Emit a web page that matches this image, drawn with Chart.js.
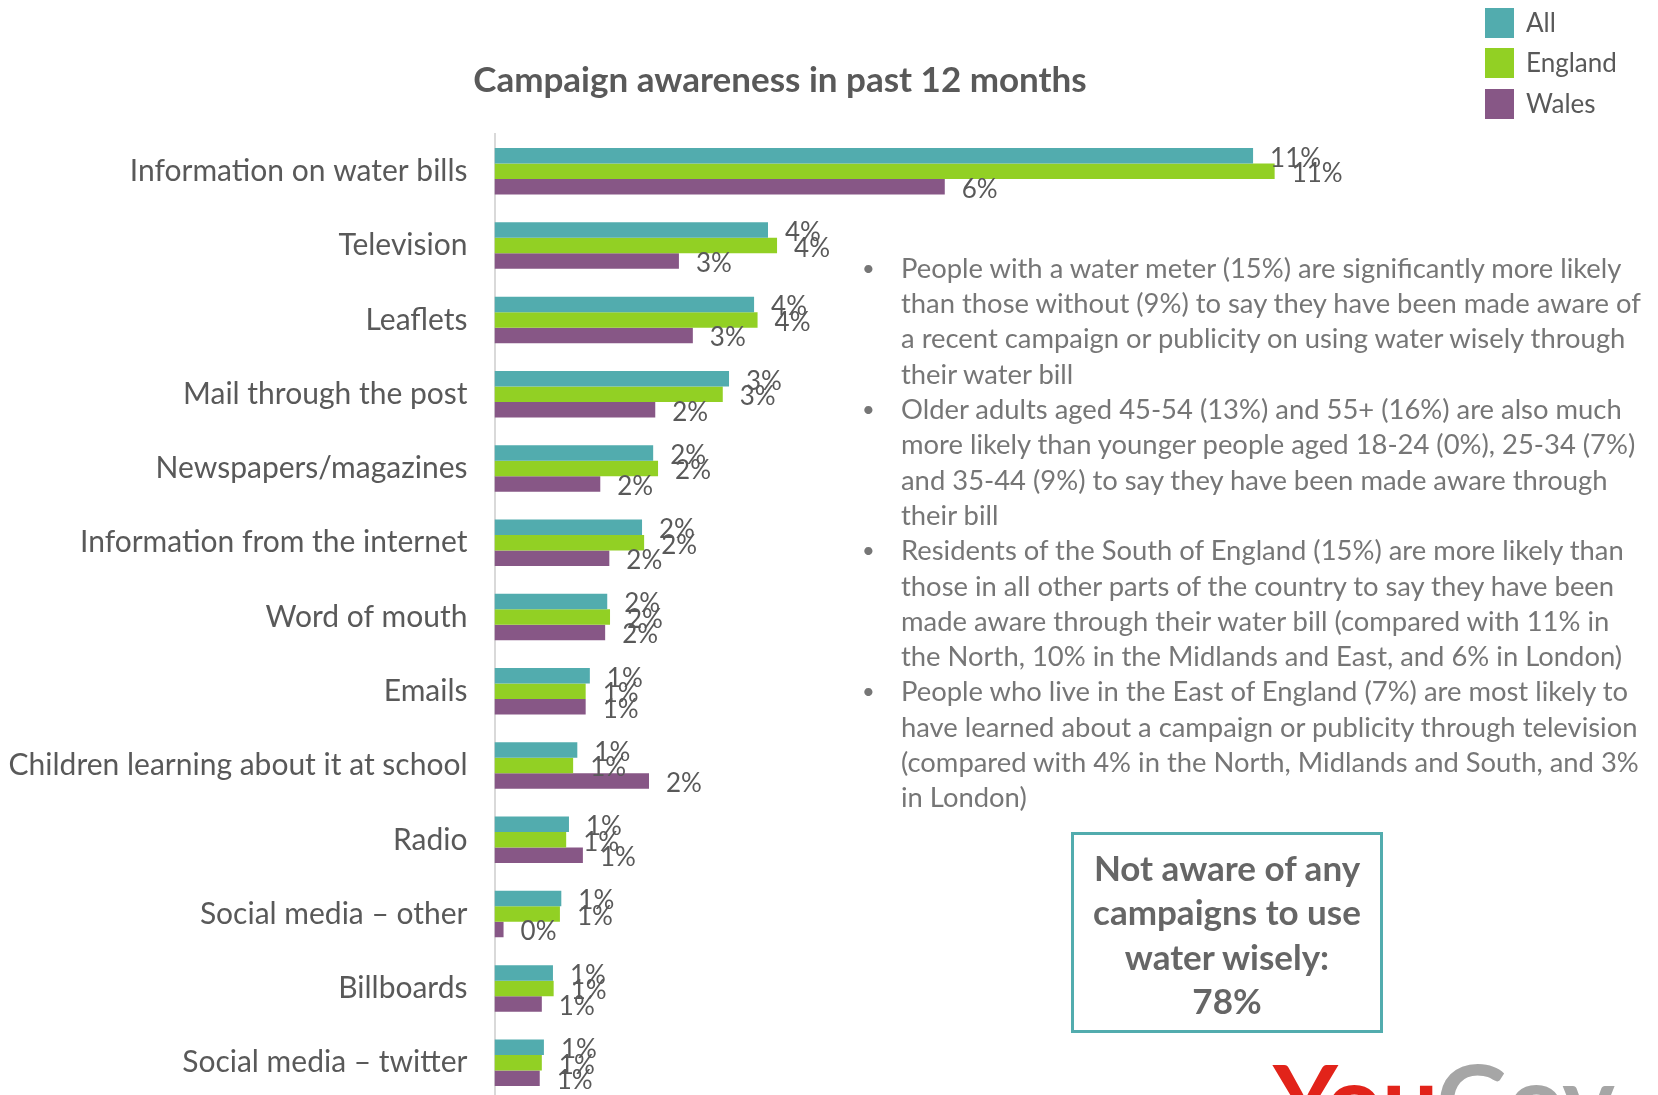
<!DOCTYPE html>
<html>
<head>
<meta charset="utf-8">
<script src="https://cdn.jsdelivr.net/npm/chart.js@4/dist/chart.umd.min.js"></script>
<style>
  html, body { margin: 0; padding: 0; background: #ffffff; width: 1658px; height: 1095px; overflow: hidden; }
  body { position: relative; font-family: Lato, "Open Sans", sans-serif; }
  #chartWrap { position: absolute; left: 0; top: 0; width: 1658px; height: 1120px; }
  #chart { display: block; width: 1658px; height: 1120px; }
  #title { position: absolute; left: 380px; width: 800px; top: 57px; text-align: center; font-weight: 700; font-size: 35px; color: #595959; white-space: nowrap; line-height: 42px; }
  #legend { position: absolute; left: 1485px; top: 0; }
  .lg { position: absolute; left: 0; white-space: nowrap; height: 30px; }
  .lg .sw { position: absolute; left: 0; top: 0; width: 29px; height: 30px; }
  .lg .tx { position: absolute; left: 41px; top: -3px; font-size: 26px; line-height: 34px; color: #595959; }
  #notes { position: absolute; left: 0; top: 0; color: #767676; font-size: 27.4px; }
  .ln { position: absolute; left: 901px; white-space: nowrap; line-height: 30px; }
  .dot { position: absolute; left: 862px; white-space: nowrap; line-height: 30px; font-size: 22px; }
  #box { position: absolute; left: 1071px; top: 832px; width: 306px; height: 195px; border: 3px solid #52acae; text-align: center; color: #666666; font-weight: 700; font-size: 35px; }
  #box div { position: absolute; left: 0; width: 306px; line-height: 40px; white-space: nowrap; }
  #logo { position: absolute; left: 1273px; top: 1048px; font-size: 100px; line-height: 100px; font-weight: 700; white-space: nowrap; letter-spacing: -1px; }
</style>
</head>
<body>
<div id="chartWrap"><canvas id="chart" width="1658" height="1120"></canvas></div>
<div id="title">Campaign awareness in past 12 months</div>
<div id="legend"></div>
<div id="notes"></div>
<div id="box"></div>
<div id="logo"><span style="color:#e2231a">You</span><span style="color:#a6a6a6">Gov</span></div>

<script>
// Sources of campaign awareness, one row per source
const categories = [
  'Information on water bills',
  'Television',
  'Leaflets',
  'Mail through the post',
  'Newspapers/magazines',
  'Information from the internet',
  'Word of mouth',
  'Emails',
  'Children learning about it at school',
  'Radio',
  'Social media \u2013 other',
  'Billboards',
  'Social media \u2013 twitter'
];

// Share of respondents aware (%), per group
const allValues     = [10.9, 3.93, 3.73, 3.37, 2.28, 2.12, 1.62, 1.37, 1.19, 1.07, 0.96, 0.84, 0.71];
const englandValues = [11.21, 4.06, 3.78, 3.28, 2.35, 2.15, 1.66, 1.31, 1.13, 1.03, 0.94, 0.85, 0.68];
const walesValues   = [6.47, 2.65, 2.85, 2.31, 1.52, 1.65, 1.59, 1.31, 2.22, 1.27, 0.13, 0.68, 0.65];

const seriesNames  = ['All', 'England', 'Wales'];
const seriesColors = ['#52acae', '#92d024', '#875786'];

const noteLines = [
  ['People with a water meter (15%) are significantly more likely', true],
  ['than those without (9%) to say they have been made aware of', false],
  ['a recent campaign or publicity on using water wisely through', false],
  ['their water bill', false],
  ['Older adults aged 45-54 (13%) and 55+ (16%) are also much', true],
  ['more likely than younger people aged 18-24 (0%), 25-34 (7%)', false],
  ['and 35-44 (9%) to say they have been made aware through', false],
  ['their bill', false],
  ['Residents of the South of England (15%) are more likely than', true],
  ['those in all other parts of the country to say they have been', false],
  ['made aware through their water bill (compared with 11% in', false],
  ['the North, 10% in the Midlands and East, and 6% in London)', false],
  ['People who live in the East of England (7%) are most likely to', true],
  ['have learned about a campaign or publicity through television', false],
  ['(compared with 4% in the North, Midlands and South, and 3%', false],
  ['in London)', false]
];

const boxLines = ['Not aware of any', 'campaigns to use', 'water wisely:', '78%'];

// Side notes
const notes = document.getElementById('notes');
noteLines.forEach(([text, bullet], i) => {
  const top = 267.8 + i * 35.3 - 15;
  const ln = document.createElement('div');
  ln.className = 'ln';
  ln.style.top = top + 'px';
  ln.textContent = text;
  notes.appendChild(ln);
  if (bullet) {
    const d = document.createElement('div');
    d.className = 'dot';
    d.style.top = top + 'px';
    d.textContent = '\u2022';
    notes.appendChild(d);
  }
});

// Summary box
const box = document.getElementById('box');
boxLines.forEach((text, i) => {
  const d = document.createElement('div');
  d.style.top = (867 - 835 + i * 44.4 - 20) + 'px';
  d.textContent = text;
  box.appendChild(d);
});

// Legend
const legend = document.getElementById('legend');
seriesNames.forEach((name, i) => {
  const item = document.createElement('div');
  item.className = 'lg';
  item.style.top = [8, 48, 89][i] + 'px';
  item.innerHTML = '<span class="sw" style="background:' + seriesColors[i] + '"></span><span class="tx">' + name + '</span>';
  legend.appendChild(item);
});

// Percent labels at the end of each bar
const barLabels = {
  id: 'barLabels',
  afterDatasetsDraw(chart) {
    const ctx = chart.ctx;
    ctx.save();
    ctx.font = '26px Lato';
    ctx.fillStyle = '#595959';
    ctx.textAlign = 'left';
    ctx.textBaseline = 'middle';
    chart.data.datasets.forEach((ds, di) => {
      const meta = chart.getDatasetMeta(di);
      meta.data.forEach((bar, i) => {
        ctx.fillText(Math.round(ds.data[i]) + '%', bar.x + 17, bar.y + 2.5);
      });
    });
    ctx.restore();
  }
};

Chart.defaults.font.family = 'Lato';

new Chart(document.getElementById('chart'), {
  type: 'bar',
  data: {
    labels: categories,
    datasets: seriesNames.map((name, i) => ({
      label: name,
      data: [allValues, englandValues, walesValues][i],
      backgroundColor: seriesColors[i],
      borderWidth: 0,
      categoryPercentage: 0.626,
      barPercentage: 1.0
    }))
  },
  options: {
    indexAxis: 'y',
    responsive: false,
    maintainAspectRatio: false,
    devicePixelRatio: 1,
    animation: false,
    layout: { padding: { top: 134.2, bottom: 20.2, left: 0, right: 50 } },
    plugins: {
      legend: { display: false },
      title: { display: false },
      tooltip: { enabled: false }
    },
    scales: {
      x: {
        display: false,
        min: 0,
        max: 16
      },
      y: {
        grid: { display: false, drawTicks: false },
        border: { display: true, color: '#d9d9d9', width: 2 },
        ticks: { color: '#595959', font: { size: 30 }, padding: 27, autoSkip: false },
        afterFit(scale) {
          scale.width = 494.5;
          scale.paddingTop = 0;
          scale.paddingBottom = 0;
        }
      }
    }
  },
  plugins: [barLabels]
});
</script>
</body>
</html>
